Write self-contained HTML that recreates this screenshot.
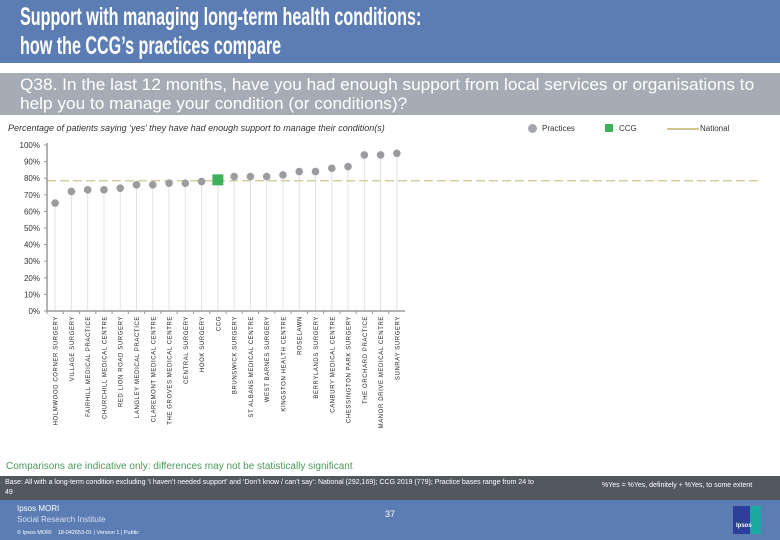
<!DOCTYPE html>
<html><head><meta charset="utf-8"><style>
body{margin:0;width:780px;height:540px;overflow:hidden;background:#fff;font-family:"Liberation Sans",sans-serif;position:relative}
.abs{position:absolute}
</style></head><body>
<div class="abs" style="left:0;top:0;width:780px;height:63px;background:#5b7db4"></div>
<div class="abs" style="left:20px;top:3px;color:#fff;font-size:25px;line-height:29px;font-weight:bold;transform:scaleX(0.645);transform-origin:left top;white-space:nowrap">Support with managing long-term health conditions:<br>how the CCG’s practices compare</div>
<div class="abs" style="left:0;top:73px;width:780px;height:42px;background:#a5acb5"></div>
<div class="abs" style="left:20px;top:76px;color:#fff;font-size:16.5px;line-height:19px;white-space:nowrap;transform:scaleX(1.045);transform-origin:left top">Q38. In the last 12 months, have you had enough support from local services or organisations to<br>help you to manage your condition (or conditions)?</div>
<div class="abs" style="left:8px;top:123px;font-size:9px;font-style:italic;color:#333">Percentage of patients saying ‘yes’ they have had enough support to manage their condition(s)</div>
<div class="abs" style="left:528px;top:124px;font-size:8px;color:#333;width:250px;height:12px">
 <span class="abs" style="left:0;top:0;width:9px;height:9px;border-radius:50%;background:#a3a6ab"></span>
 <span class="abs" style="left:14px;top:0">Practices</span>
 <span class="abs" style="left:77px;top:0;width:8px;height:8px;background:#3cb35a"></span>
 <span class="abs" style="left:91px;top:0">CCG</span>
 <span class="abs" style="left:139px;top:4px;width:32px;height:2px;background:#cfc690"></span>
 <span class="abs" style="left:172px;top:0">National</span>
</div>
<svg class="abs" style="left:0;top:0" width="780" height="460" id="chart"></svg>
<div class="abs" style="left:6px;top:461px;font-size:10px;color:#4a9a5a">Comparisons are indicative only: differences may not be statistically significant</div>
<div class="abs" style="left:0;top:476px;width:780px;height:24px;background:#53585f"></div>
<div class="abs" style="left:5px;top:478px;font-size:7px;line-height:10px;color:#fff;width:530px">Base: All with a long-term condition excluding ‘I haven’t needed support’ and ‘Don’t know / can’t say’: National (292,169); CCG 2019 (779); Practice bases range from 24 to 49</div>
<div class="abs" style="left:602px;top:482px;font-size:7px;color:#fff">%Yes = %Yes, definitely + %Yes, to some extent</div>
<div class="abs" style="left:0;top:500px;width:780px;height:40px;background:#5b7db4"></div>
<div class="abs" style="left:17px;top:503px;color:#fff;font-size:8px;line-height:11px">Ipsos MORI<br><span style="color:#dde">Social Research Institute</span></div>
<div class="abs" style="left:17px;top:530px;color:#fff;font-size:5.5px">© Ipsos MORI &nbsp;&nbsp; 18-042653-01 | Version 1 | Public</div>
<div class="abs" style="left:385px;top:509px;color:#fff;font-size:9px">37</div>
<div class="abs" style="left:733px;top:506px;width:28px;height:28px;background:linear-gradient(90deg,#2c3f9a 60%,#1aa8a0 60%)"><span style="position:absolute;left:3px;top:17px;color:#fff;font-size:6px;font-weight:bold">Ipsos</span></div>
<script>
const categories=["HOLMWOOD CORNER SURGERY","VILLAGE SURGERY","FAIRHILL MEDICAL PRACTICE","CHURCHILL MEDICAL CENTRE","RED LION ROAD SURGERY","LANGLEY MEDICAL PRACTICE","CLAREMONT MEDICAL CENTRE","THE GROVES MEDICAL CENTRE","CENTRAL SURGERY","HOOK SURGERY","CCG","BRUNSWICK SURGERY","ST ALBANS MEDICAL CENTRE","WEST BARNES SURGERY","KINGSTON HEALTH CENTRE","ROSELAWN","BERRYLANDS SURGERY","CANBURY MEDICAL CENTRE","CHESSINGTON PARK SURGERY","THE ORCHARD PRACTICE","MANOR DRIVE MEDICAL CENTRE","SUNRAY SURGERY"];
const values=[65,72,73,73,74,76,76,77,77,78,79,81,81,81,82,84,84,86,87,94,94,95];
const nationalValue=78.5;
const yTicks=[0,10,20,30,40,50,60,70,80,90,100];
const svg=document.getElementById('chart');const NS='http://www.w3.org/2000/svg';
const x0=47,x1=405,y0=311,y1=145;
const y=v=>y0-(v/100)*(y0-y1);
const step=(x1-x0)/categories.length;
const x=i=>x0+step*(i+0.5);
function mk(t,a){const e=document.createElementNS(NS,t);for(const k in a)e.setAttribute(k,a[k]);svg.appendChild(e);return e;}
yTicks.forEach(t=>{const tx=mk('text',{x:40,y:y(t)+3,'text-anchor':'end','font-size':8,fill:'#333','font-family':'Liberation Sans'});tx.textContent=t+'%';


const tk=mk('line',{x1:x0-3,x2:x0,y1:y(t),y2:y(t),stroke:'#999'});

});
categories.forEach((c,i)=>{
 const st=mk('line',{x1:x(i),x2:x(i),y1:y(values[i]),y2:y0,stroke:'#e2e2e2','stroke-width':1});
 
 
 const tk=mk('line',{x1:x(i)-step/2,x2:x(i)-step/2,y1:y0,y2:y0+3,stroke:'#999'});
 
 
 const lb=mk('text',{transform:`translate(${x(i)+2.5},${y0+5}) rotate(-90)`,'text-anchor':'end','font-size':6,'letter-spacing':'0.6',fill:'#222','font-family':'Liberation Sans'});
 lb.textContent=c;
 
 
});
const ny=y(nationalValue);
const nl=mk('line',{x1:x0,x2:762,y1:ny,y2:ny,stroke:'#d6d0a0','stroke-width':1.5,'stroke-dasharray':'9,4'});


const ya=mk('line',{x1:x0,x2:x0,y1:y1-2,y2:y0,stroke:'#999','stroke-width':1.5});


const xa=mk('line',{x1:x0,x2:x1,y1:y0,y2:y0,stroke:'#999','stroke-width':1.5});


categories.forEach((c,i)=>{
 if(c==='CCG'){const r=mk('rect',{x:x(i)-5.5,y:y(values[i])-5.5,width:11,height:11,fill:'#3cb35a'});
  
  }
 else{const d=mk('circle',{cx:x(i),cy:y(values[i]),r:3.8,fill:'#9a9ca0'});
  
  }
});
</script>
</body></html>
